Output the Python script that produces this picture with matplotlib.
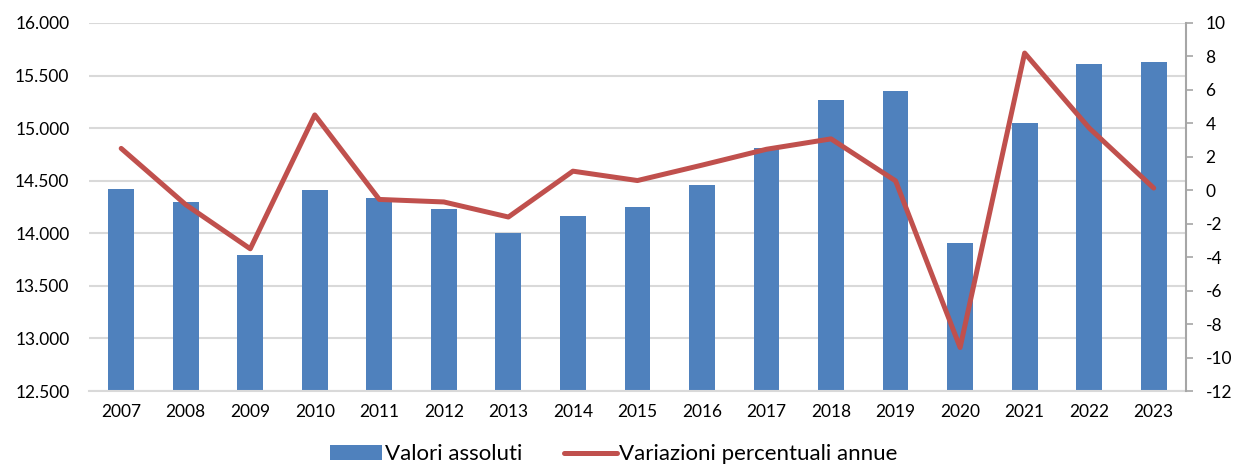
import matplotlib.pyplot as plt
from matplotlib.ticker import FuncFormatter, MultipleLocator

# annual totals and yearly % change
years = ['2007', '2008', '2009', '2010', '2011', '2012', '2013', '2014', '2015',
         '2016', '2017', '2018', '2019', '2020', '2021', '2022', '2023']
valori = [14417, 14293, 13789, 14413, 14334, 14232, 14007, 14166, 14248,
          14461, 14813, 15267, 15353, 13909, 15048, 15613, 15632]
variazioni = [2.5, -0.86, -3.5, 4.5, -0.55, -0.7, -1.6, 1.14, 0.58,
              1.5, 2.45, 3.07, 0.56, -9.4, 8.2, 3.72, 0.13]

BLUE = '#4F81BD'
RED = '#C0504D'
GRID = '#D9D9D9'

plt.rcParams['font.family'] = ['Lato', 'DejaVu Sans']
plt.rcParams['font.size'] = 12.5

fig, ax = plt.subplots(figsize=(12.35, 4.68), dpi=100)
fig.subplots_adjust(left=0.072, right=0.9603, top=0.951, bottom=0.1645)

x = list(range(len(years)))
bars = ax.bar(x, valori, width=0.40, color=BLUE, label='Valori assoluti', zorder=2)
ax.set_xlim(-0.5, len(years) - 0.5)
ax.set_ylim(12500, 16000)
ax.yaxis.set_major_locator(MultipleLocator(500))
ax.yaxis.set_major_formatter(FuncFormatter(lambda v, p: f'{int(v):,}'.replace(',', '.')))
ax.set_xticks(x)
ax.set_xticklabels(years)
ax.grid(axis='y', color=GRID, linewidth=1.5, zorder=0)
ax.set_axisbelow(True)
ax.tick_params(axis='x', length=0, pad=9)
ax.tick_params(axis='y', length=0, pad=14)
for s in ['top', 'left', 'right']:
    ax.spines[s].set_visible(False)
ax.spines['bottom'].set_color(GRID)
ax.spines['bottom'].set_linewidth(1.5)

ax2 = ax.twinx()
line, = ax2.plot(x, variazioni, color=RED, linewidth=3.6, solid_capstyle='round',
                 label='Variazioni percentuali annue')
ax2.set_ylim(-12, 10)
ax2.yaxis.set_major_locator(MultipleLocator(2))
ax2.yaxis.set_major_formatter(FuncFormatter(lambda v, p: f'{int(round(v))}'))
ax2.tick_params(axis='y', direction='out', length=5, width=1.2, color='#A6A6A6', pad=9)
for s in ['top', 'left', 'bottom']:
    ax2.spines[s].set_visible(False)
ax2.spines['right'].set_color('#A6A6A6')
ax2.spines['right'].set_linewidth(1.5)

fig.legend(handles=[bars, line], loc='lower center', bbox_to_anchor=(0.497, -0.035),
           ncol=2, frameon=False, handlelength=2.35, handletextpad=0.12,
           columnspacing=1.9, fontsize=16)

fig.savefig('out.png', dpi=100)
